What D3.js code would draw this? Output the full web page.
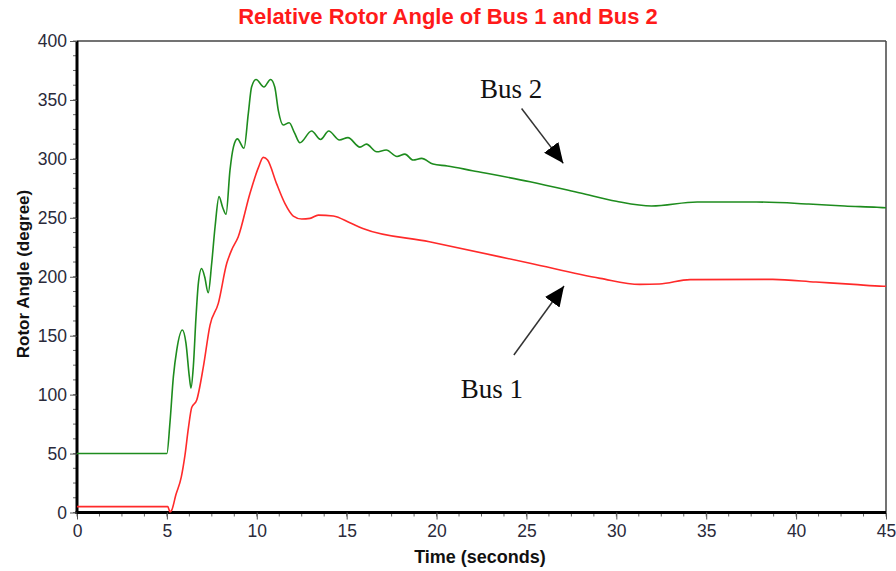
<!DOCTYPE html>
<html><head><meta charset="utf-8">
<script src="https://cdn.jsdelivr.net/npm/d3@7"></script>
<style>html,body{margin:0;padding:0;background:#fff;}svg{display:block;}</style>
</head><body>
<svg id="chart" width="896" height="571"></svg>
<script>
const chartTitle = "Relative Rotor Angle of Bus 1 and Bus 2";
const xTitle = "Time (seconds)";
const yTitle = "Rotor Angle (degree)";
const xTicks = [0, 5, 10, 15, 20, 25, 30, 35, 40, 45];
const yTicks = [0, 50, 100, 150, 200, 250, 300, 350, 400];

const bus2Time = [0, 5.0, 5.17, 5.36, 5.55, 5.86, 6.06, 6.25, 6.34, 6.47, 6.62, 6.75, 6.93, 7.1, 7.3, 7.49, 7.68, 7.9, 8.1, 8.29, 8.51, 8.7, 8.92, 9.29, 9.53, 9.71, 9.96, 10.4, 10.77, 11.0, 11.2, 11.47, 11.8, 12.1, 12.4, 13.05, 13.55, 14.0, 14.6, 15.07, 15.74, 16.1, 16.67, 17.2, 17.8, 18.24, 18.7, 19.17, 19.8, 20.6, 22, 25.2, 28, 30, 31.96, 34.5, 37.8, 40.7, 42.7, 44.5, 45];
const bus2Angle = [50, 50, 76, 115, 138, 154.8, 143.7, 115, 105.6, 123.7, 166, 194.4, 207, 200, 186.4, 211, 242.4, 268, 259, 253, 290.5, 310, 317, 309, 338.6, 361, 367.4, 361, 367.4, 361, 341, 328.7, 330.6, 322, 313.7, 323.6, 316.5, 323.6, 316, 318, 310, 312.5, 306, 307.5, 302, 304, 299, 300.4, 295.6, 294, 290, 280.6, 271, 264, 260, 263.4, 263.4, 261.7, 260, 258.9, 258.5];

const bus1Time = [0, 5.05, 5.17, 5.27, 5.5, 5.8, 6.0, 6.2, 6.38, 6.66, 7.03, 7.4, 7.86, 8.33, 8.6, 8.97, 9.62, 10.1, 10.36, 10.6, 11.1, 11.57, 12.03, 12.5, 12.96, 13.42, 14.26, 15.18, 15.9, 19.6, 25.2, 29.1, 31.3, 32.4, 34.1, 38.7, 41.1, 43.2, 44.85, 45];
const bus1Angle = [5, 5, 0.5, 2, 15, 30, 48, 72, 89, 95.4, 123.7, 159, 177.4, 211.4, 222.6, 234, 270.7, 293, 301.3, 299, 279, 262, 251.5, 249, 249.5, 252.3, 251.5, 245.8, 241, 229.7, 211.4, 198.6, 193.5, 193.8, 197.6, 197.8, 195.5, 193.5, 192, 192];

// annotations in data units
const annotationLabels = ["Bus 2", "Bus 1"];
const annotationLabelT = [22.42, 21.34];
const annotationLabelV = [351.6, 97.1];
const arrowTailT = [24.73, 24.3];
const arrowTailV = [342.8, 133.6];
const arrowTipT = [27.05, 27.09];
const arrowTipV = [296.2, 192.1];

const svg = d3.select("#chart");
const m = {left: 77, right: 10, top: 41, bottom: 58.5};
const W = 896, H = 571;
const x = d3.scaleLinear().domain([0, 45]).range([m.left, W - m.right]);
const y = d3.scaleLinear().domain([0, 400]).range([H - m.bottom, m.top]);

const fontF = "Liberation Sans, Arial, sans-serif";

// title
svg.append("text").attr("x", 448).attr("y", 24).attr("text-anchor", "middle")
  .attr("font-family", fontF).attr("font-weight", "bold")
  .attr("font-size", 22).attr("fill", "#ff1a1a").text(chartTitle);

// frame top/right
svg.append("line").attr("x1", x(0)).attr("x2", x(45)).attr("y1", y(400)).attr("y2", y(400))
  .attr("stroke", "#444").attr("stroke-width", 1.5);
svg.append("line").attr("x1", x(45)).attr("x2", x(45)).attr("y1", y(400)).attr("y2", y(0))
  .attr("stroke", "#444").attr("stroke-width", 1.5);

// minor ticks
const xMinor = d3.range(0, 45.01, 1.25);
const yMinor = d3.range(0, 400.01, 12.5);
svg.append("g").selectAll("line").data(xMinor).join("line")
  .attr("x1", d => x(d)).attr("x2", d => x(d)).attr("y1", y(0)).attr("y2", y(0) + 4)
  .attr("stroke", "#666").attr("stroke-width", 1);
svg.append("g").selectAll("line").data(yMinor).join("line")
  .attr("y1", d => y(d)).attr("y2", d => y(d)).attr("x1", x(0)).attr("x2", x(0) - 4)
  .attr("stroke", "#666").attr("stroke-width", 1);

// axes
const gx = svg.append("g").attr("transform", `translate(0,${y(0)})`)
  .call(d3.axisBottom(x).tickValues(xTicks).tickSize(7).tickPadding(5).tickFormat(d3.format("d")));
const gy = svg.append("g").attr("transform", `translate(${x(0)},0)`)
  .call(d3.axisLeft(y).tickValues(yTicks).tickSize(7).tickPadding(3).tickFormat(d3.format("d")));
[gx, gy].forEach(g => {
  g.select(".domain").attr("stroke", "#000").attr("stroke-width", 3);
  g.selectAll(".tick line").attr("stroke", "#555").attr("stroke-width", 1);
  g.selectAll(".tick text").attr("font-family", fontF).attr("font-size", 17.5).attr("fill", "#2a2a3a");
});
gx.select(".domain").attr("d", `M${x(0) - 1.5},0H${x(45)}`);
gy.select(".domain").attr("d", `M0,${y(0) + 1.5}V${y(400)}`);

// axis titles
svg.append("text").attr("x", 480).attr("y", 563).attr("text-anchor", "middle")
  .attr("font-family", fontF).attr("font-weight", "bold").attr("font-size", 18)
  .attr("fill", "#111").text(xTitle);
svg.append("text").attr("transform", "translate(29,274) rotate(-90)").attr("text-anchor", "middle")
  .attr("font-family", fontF).attr("font-weight", "bold").attr("font-size", 17)
  .attr("fill", "#111").text(yTitle);

// lines
const line = d3.line().x(d => x(d[0])).y(d => y(d[1])).curve(d3.curveMonotoneX);
svg.append("path").datum(d3.zip(bus2Time, bus2Angle)).attr("d", line)
  .attr("fill", "none").attr("stroke", "#1e8c1e").attr("stroke-width", 1.6);
svg.append("path").datum(d3.zip(bus1Time, bus1Angle)).attr("d", line)
  .attr("fill", "none").attr("stroke", "#ff2a2a").attr("stroke-width", 1.6);

// annotations
svg.append("defs").append("marker").attr("id", "ah")
  .attr("viewBox", "0 0 20 18").attr("refX", 20).attr("refY", 9)
  .attr("markerWidth", 20).attr("markerHeight", 18).attr("markerUnits", "userSpaceOnUse")
  .attr("orient", "auto")
  .append("path").attr("d", "M0,0L20,9L0,18Z").attr("fill", "#000");
annotationLabels.forEach((lab, i) => {
  svg.append("line").attr("x1", x(arrowTailT[i])).attr("y1", y(arrowTailV[i]))
    .attr("x2", x(arrowTipT[i])).attr("y2", y(arrowTipV[i]))
    .attr("stroke", "#333").attr("stroke-width", 1.5).attr("marker-end", "url(#ah)");
  svg.append("text").attr("x", x(annotationLabelT[i])).attr("y", y(annotationLabelV[i]))
    .attr("font-family", "Liberation Serif, Times New Roman, serif").attr("font-size", 27)
    .attr("fill", "#111").text(lab);
});
</script>
</body></html>
